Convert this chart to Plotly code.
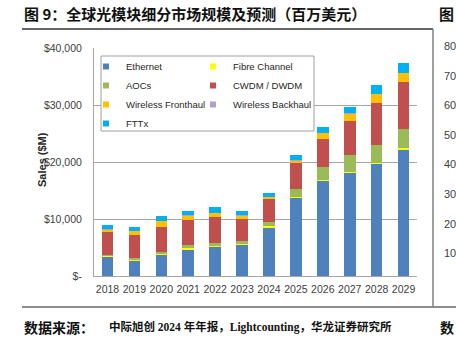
import plotly.graph_objects as go

# Global optical transceiver market by segment, $M (2024 onwards forecast)
years = ["2018", "2019", "2020", "2021", "2022", "2023",
         "2024", "2025", "2026", "2027", "2028", "2029"]
ethernet = [3390, 2680, 3740, 4620, 5140, 5490, 8540, 13740, 16670, 18120, 19650, 22230]
fibre_channel = [150, 200, 200, 300, 150, 150, 150, 150, 200, 200, 200, 250]
aocs = [140, 280, 330, 570, 550, 550, 840, 1370, 2200, 2850, 3190, 3260]
cwdm_dwdm = [4160, 3970, 4270, 4390, 4460, 3860, 3920, 4510, 4910, 6020, 7360, 8240]
wireless_fronthaul = [350, 820, 1160, 770, 810, 600, 460, 580, 1110, 1350, 1530, 1690]
wireless_backhaul = [30, 30, 30, 30, 30, 30, 30, 30, 30, 30, 30, 30]
fttx = [670, 670, 850, 780, 960, 780, 670, 900, 1080, 1130, 1550, 1620]

y_ticks = [0, 10000, 20000, 30000, 40000]
y_tick_labels = ["$-", "$10,000", "$20,000", "$30,000", "$40,000"]

# (name, values, colour, legend column) in stacking order, bottom to top
segments = [
    ("Ethernet", ethernet, "#4F81BD", "legend"),
    ("Fibre Channel", fibre_channel, "#FFFF00", "legend2"),
    ("AOCs", aocs, "#9BBB59", "legend"),
    ("CWDM / DWDM", cwdm_dwdm, "#C0504D", "legend2"),
    ("Wireless Fronthaul", wireless_fronthaul, "#FFC000", "legend"),
    ("Wireless Backhaul", wireless_backhaul, "#B3A2C7", "legend2"),
    ("FTTx", fttx, "#00B0F0", "legend"),
]

W, H = 456, 338
L, R, T, B = 94, 39, 48, 62
PW, PH = W - L - R, H - T - B


def px(x):
    return (x - L) / PW


def py(y):
    return (H - B - y) / PH


SANS = "Liberation Sans, Arial, sans-serif"
CJK = "Noto Sans CJK SC, sans-serif"
SERIF_CJK = "Liberation Serif, Noto Sans CJK SC, serif"

fig = go.Figure()
for name, vals, color, _ in segments:
    fig.add_trace(go.Bar(x=years, y=vals, name=name, marker_color=color,
                         marker_line_width=0, width=0.43, showlegend=False,
                         hovertemplate="%{x}: $%{y:,}M<extra>" + name + "</extra>"))

# legend swatches: two columns inside one framed box
for name, vals, color, leg in segments:
    fig.add_trace(go.Scatter(x=[None], y=[None], mode="markers", name=name,
                             marker=dict(symbol="square", size=6, color=color),
                             legend=leg, showlegend=True))

legend_common = dict(bgcolor="rgba(0,0,0,0)", borderwidth=0, traceorder="normal",
                     font=dict(family=SANS, size=9.5, color="#262626"),
                     itemwidth=30, xanchor="left", yanchor="top")

fig.update_layout(
    width=W, height=H,
    margin=dict(l=L, r=R, t=T, b=B, pad=0),
    paper_bgcolor="white", plot_bgcolor="white",
    barmode="stack",
    legend=dict(x=px(86), y=py(52), **legend_common),
    legend2=dict(x=px(193), y=py(52), **legend_common),
    xaxis=dict(type="category", showline=True, linecolor="#A6A6A6", linewidth=1,
               ticks="", showgrid=False, tickangle=0, ticklabelstandoff=3,
               tickfont=dict(family=SANS, size=10.5, color="#404040")),
    yaxis=dict(range=[0, 40000], tickvals=y_ticks, ticktext=y_tick_labels,
               showline=True, linecolor="#A6A6A6", linewidth=1,
               showgrid=True, gridcolor="#A6A6A6", gridwidth=1,
               zeroline=False, ticks="", ticklabelstandoff=9,
               tickfont=dict(family=SANS, size=10.5, color="#404040")),
    shapes=[
        # legend frame, hides the gridline behind it
        dict(type="rect", xref="paper", yref="paper", layer="above",
             x0=px(101), x1=px(314), y0=py(131), y1=py(56),
             fillcolor="white", line=dict(color="#A0A0A0", width=1)),
        # page rules around the figure
        dict(type="line", xref="paper", yref="paper",
             x0=px(22), x1=px(433), y0=py(29), y1=py(29),
             line=dict(color="#333333", width=1.5)),
        dict(type="line", xref="paper", yref="paper",
             x0=px(22), x1=px(456), y0=py(307), y1=py(307),
             line=dict(color="#666666", width=1.5)),
        dict(type="line", xref="paper", yref="paper",
             x0=px(433), x1=px(433), y0=py(29), y1=py(307),
             line=dict(color="#808080", width=1.5)),
    ],
)

annotations = [
    dict(text="<b>Sales ($M)</b>", x=px(42), y=py(160), textangle=-90,
         xanchor="center", yanchor="middle",
         font=dict(family=SANS, size=11, color="#262626")),
    dict(text="<b>图 9：全球光模块细分市场规模及预测（百万美元）</b>",
         x=px(22), y=py(13), xanchor="left", yanchor="middle",
         font=dict(family=CJK, size=15, color="#111111")),
    dict(text="<b>图</b>", x=px(437), y=py(13), xanchor="left", yanchor="middle",
         font=dict(family=CJK, size=15, color="#111111")),
    dict(text="<b>数据来源：</b>", x=px(22), y=py(327), xanchor="left", yanchor="middle",
         font=dict(family=CJK, size=14, color="#111111")),
    dict(text="<b>中际旭创 2024 年年报，Lightcounting，华龙证券研究所</b>",
         x=px(107), y=py(327), xanchor="left", yanchor="middle",
         font=dict(family=SERIF_CJK, size=11.5, color="#111111")),
    dict(text="<b>数</b>", x=px(438), y=py(327), xanchor="left", yanchor="middle",
         font=dict(family=CJK, size=14, color="#111111")),
]
# axis labels of the neighbouring panel at the right edge
side_labels = ["80", "70", "60", "50", "40", "30", "20", "10"]
for i, lab in enumerate(side_labels):
    annotations.append(dict(text=lab, x=px(442), y=py(46 + i * 29.6),
                            xanchor="left", yanchor="middle",
                            font=dict(family=SANS, size=11, color="#404040")))
for a in annotations:
    a.update(xref="paper", yref="paper", showarrow=False)
fig.update_layout(annotations=annotations)

fig.write_html("out.html")
